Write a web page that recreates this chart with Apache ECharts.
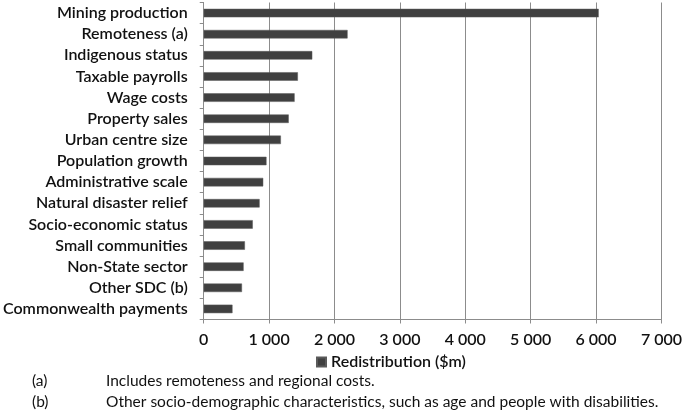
<!DOCTYPE html>
<html>
<head>
<meta charset="utf-8">
<script src="https://cdn.jsdelivr.net/npm/echarts@6/dist/echarts.min.js"></script>
<style>
html,body{margin:0;padding:0;background:#fff;}
#chart{width:685px;height:417px;}
</style>
</head>
<body>
<div id="chart"></div>
<script>
var categories = ["Mining production","Remoteness (a)","Indigenous status","Taxable payrolls","Wage costs","Property sales","Urban centre size","Population growth","Administrative scale","Natural disaster relief","Socio-economic status","Small communities","Non-State sector","Other SDC (b)","Commonwealth payments"];
var redistribution = [6040,2200,1660,1440,1390,1300,1180,960,910,855,750,630,610,585,440];
var seriesName = "Redistribution ($m)";
var footnoteKeys = ["(a)","(b)"];
var footnoteTexts = ["Includes remoteness and regional costs.","Other socio-demographic characteristics, such as age and people with disabilities."];

var FONT = "Lato";
var chart = echarts.init(document.getElementById('chart'));
var graphics = [];
for (var i = 0; i < footnoteKeys.length; i++) {
  graphics.push({type:'text', left:32, top:373 + i*21, style:{text:footnoteKeys[i], font:'15.5px ' + FONT, fill:'#111'}});
  graphics.push({type:'text', left:106, top:373 + i*21, style:{text:footnoteTexts[i], font:'15.5px ' + FONT, fill:'#111'}});
}
chart.setOption({
  animation:false,
  textStyle:{fontFamily:FONT},
  grid:{left:202.5, right:20, top:2.5, bottom:97.5, containLabel:false},
  legend:{
    data:[seriesName], left:311, top:349, icon:'rect', itemWidth:9, itemHeight:9, itemGap:4,
    textStyle:{fontSize:16, color:'#111', fontFamily:FONT, fontWeight:600}
  },
  xAxis:{
    type:'value', min:0, max:7000, interval:1000,
    axisLine:{show:true, lineStyle:{color:'#8c8c8c'}},
    axisTick:{show:true, length:4, lineStyle:{color:'#8c8c8c'}},
    splitLine:{show:true, lineStyle:{color:'#8c8c8c', width:1}},
    axisLabel:{fontSize:16, color:'#111', margin:12, fontFamily:FONT, fontWeight:600,
      formatter:function(v){ return String(v).replace(/\B(?=(\d{3})+(?!\d))/g,' '); }}
  },
  yAxis:{
    type:'category', data:categories, inverse:true,
    axisLine:{show:true, lineStyle:{color:'#8c8c8c'}},
    axisTick:{show:true, length:4, lineStyle:{color:'#8c8c8c'}},
    axisLabel:{fontSize:16, color:'#111', margin:16, fontFamily:FONT, fontWeight:600}
  },
  series:[{
    name:seriesName, type:'bar', data:redistribution, barWidth:8.5,
    itemStyle:{color:'#404040', borderColor:'#5a5a5a', borderWidth:0.5}
  }],
  graphic:graphics
});
</script>
</body>
</html>
